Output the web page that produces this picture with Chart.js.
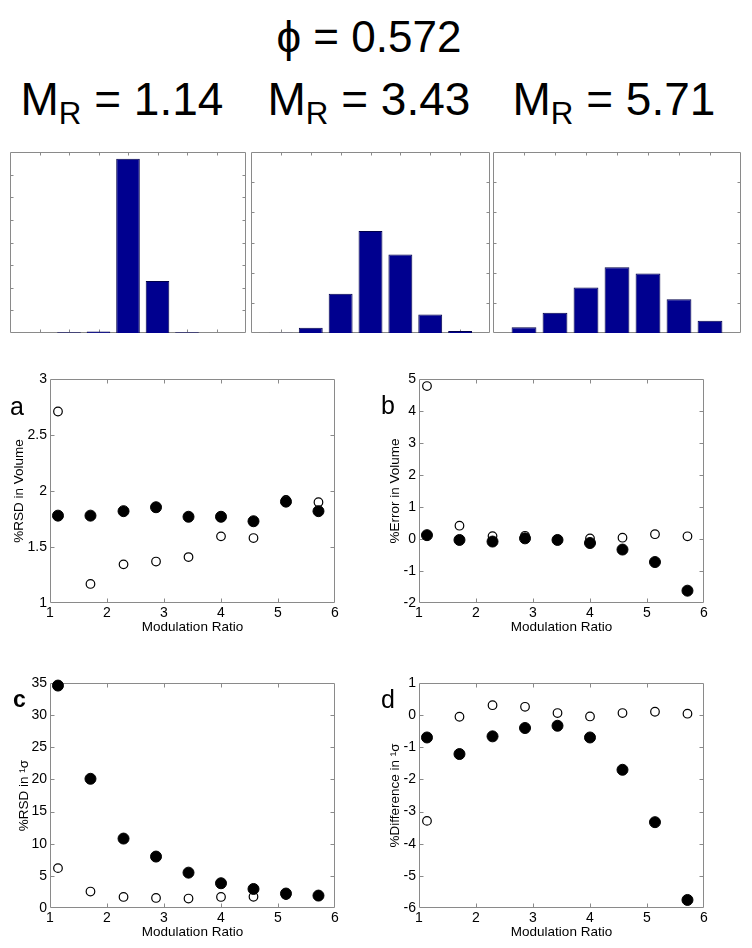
<!DOCTYPE html>
<html>
<head>
<meta charset="utf-8">
<script src="https://cdn.jsdelivr.net/npm/chart.js@4.4.1/dist/chart.umd.min.js"></script>
<style>
  body { margin: 0; background: #fff; }
  #page { position: relative; width: 752px; height: 948px; overflow: hidden;
          font-family: "Liberation Sans", Arial, sans-serif; color: #000; }
  #page canvas, #page .txt { position: absolute; }
  .txt { line-height: 1; white-space: nowrap; }
  .big { font-size: 46px; }
  .big span { font-size: 0.68em; vertical-align: -0.3em; }
  .lbl { font-size: 25px; }
</style>
</head>
<body>
<div id="page">
  <div class="txt" id="phi" style="font-size:44px; top:15px;">ϕ = 0.572</div>
  <div class="txt big" id="mr1" style="top:76px;">M<span>R</span> = 1.14</div>
  <div class="txt big" id="mr2" style="top:76px;">M<span>R</span> = 3.43</div>
  <div class="txt big" id="mr3" style="top:76px;">M<span>R</span> = 5.71</div>

  <canvas id="h1" width="236" height="181" style="left:10px; top:152px;"></canvas>
  <canvas id="h2" width="239" height="181" style="left:251px; top:152px;"></canvas>
  <canvas id="h3" width="248" height="181" style="left:493px; top:152px;"></canvas>

  <canvas id="pa" width="376" height="277" style="left:0px; top:360px;"></canvas>
  <canvas id="pb" width="376" height="277" style="left:376px; top:360px;"></canvas>
  <canvas id="pc" width="376" height="292" style="left:0px; top:650px;"></canvas>
  <canvas id="pd" width="376" height="292" style="left:376px; top:650px;"></canvas>

  <div class="txt lbl" style="left:10px; top:394px;">a</div>
  <div class="txt lbl" style="left:381px; top:393px;">b</div>
  <div class="txt lbl" style="left:13px; top:688px; font-size:23px; font-weight:bold;">c</div>
  <div class="txt lbl" style="left:381px; top:687px;">d</div>
</div>
<script>
// histogram bins (centres) and heights
const histBins = [1, 2, 3, 4, 5, 6, 7];
const hist114 = [0.005, 0.03, 0.07, 7.70, 2.30, 0.03, 0.005];
const hist343 = [0.01, 0.17, 1.30, 3.38, 2.60, 0.61, 0.07];
const hist571 = [0.19, 0.67, 1.51, 2.18, 1.97, 1.12, 0.41];

// modulation ratios for the scatter panels
const modRatio = [1.14, 1.71, 2.29, 2.86, 3.43, 4.00, 4.57, 5.14, 5.71];

// a: %RSD in volume
const rsdVolFilled = [1.78, 1.78, 1.82, 1.855, 1.77, 1.77, 1.73, 1.905, 1.82];
const rsdVolOpen = [2.71, 1.17, 1.345, 1.37, 1.41, 1.595, 1.58, 1.92, 1.90];
// b: %error in volume
const errVolFilled = [0.12, -0.03, -0.08, 0.02, -0.03, -0.125, -0.33, -0.72, -1.615];
const errVolOpen = [4.78, 0.415, 0.09, 0.10, -0.02, 0.02, 0.04, 0.15, 0.085];
// c: %RSD in 1sigma
const rsdSigFilled = [34.6, 20.1, 10.8, 8.0, 5.5, 3.85, 2.96, 2.25, 1.93];
const rsdSigOpen = [6.2, 2.56, 1.72, 1.56, 1.47, 1.72, 1.75, 2.0, 1.85];
// d: %difference in 1sigma
const diffSigFilled = [-0.695, -1.21, -0.66, -0.40, -0.33, -0.695, -1.70, -3.33, -5.75];
const diffSigOpen = [-3.29, -0.05, 0.31, 0.26, 0.065, -0.04, 0.065, 0.105, 0.045];

const axisGray = '#8a8a8a';
const fontFamily = '"Liberation Sans", Arial, sans-serif';

// MATLAB style box with ticks pointing inwards
const boxTicks = {
  id: 'boxTicks',
  beforeDatasetsDraw(chart, args, opts) {
    const {ctx, chartArea: a, scales: {x, y}} = chart;
    const len = opts.len || 4;
    const l = Math.round(a.left) + 0.5, r = Math.round(a.right) - 0.5;
    const t = Math.round(a.top) + 0.5, b = Math.round(a.bottom) - 0.5;
    ctx.save();
    ctx.strokeStyle = axisGray;
    ctx.lineWidth = 1;
    ctx.beginPath();
    x.ticks.forEach(tk => {
      const px = Math.round(x.getPixelForValue(tk.value)) + 0.5;
      if (px <= l + 1 || px >= r - 1) return;
      ctx.moveTo(px, t); ctx.lineTo(px, t + len);
      ctx.moveTo(px, b); ctx.lineTo(px, b - len);
    });
    y.ticks.forEach(tk => {
      const py = Math.round(y.getPixelForValue(tk.value)) + 0.5;
      if (py <= t + 1 || py >= b - 1) return;
      ctx.moveTo(l, py); ctx.lineTo(l + len, py);
      ctx.moveTo(r, py); ctx.lineTo(r - len, py);
    });
    ctx.rect(l, t, r - l, b - t);
    ctx.stroke();
    ctx.restore();
  }
};

function histogram(id, values, yMax) {
  new Chart(document.getElementById(id), {
    type: 'bar',
    data: {
      datasets: [{
        data: histBins.map((x, i) => ({x: x, y: values[i]})),
        backgroundColor: '#00008f',
        borderColor: '#00004a',
        borderWidth: 1,
        barPercentage: 0.8,
        categoryPercentage: 1.0
      }]
    },
    options: {
      responsive: false,
      animation: false,
      events: [],
      layout: {padding: 0},
      plugins: {legend: {display: false}, tooltip: {enabled: false}, boxTicks: {len: 3}},
      scales: {
        x: {type: 'linear', min: 0, max: 8, offset: false, display: false, ticks: {stepSize: 1}},
        y: {min: 0, max: yMax, display: false, ticks: {stepSize: 1}}
      }
    },
    plugins: [boxTicks]
  });
}

histogram('h1', hist114, 8);
histogram('h2', hist343, 6);
histogram('h3', hist571, 6);

function scatterPanel(id, filled, open, geo) {
  new Chart(document.getElementById(id), {
    type: 'scatter',
    data: {
      datasets: [{
        data: modRatio.map((x, i) => ({x: x, y: filled[i]})),
        pointRadius: 5.5,
        backgroundColor: '#000',
        borderColor: '#000',
        borderWidth: 1,
        clip: false
      }, {
        data: modRatio.map((x, i) => ({x: x, y: open[i]})),
        pointRadius: 4.3,
        backgroundColor: '#fff',
        borderColor: '#000',
        borderWidth: 1.2,
        clip: false
      }]
    },
    options: {
      responsive: false,
      animation: false,
      events: [],
      layout: {padding: {top: geo.top, right: geo.right, left: 0, bottom: 0}},
      plugins: {legend: {display: false}, tooltip: {enabled: false}, boxTicks: {len: 4}},
      scales: {
        x: {
          type: 'linear', min: 1, max: 6,
          grid: {display: false, drawTicks: false}, border: {display: false},
          ticks: {stepSize: 1, padding: 2, color: '#000', font: {family: fontFamily, size: 14},
                  maxRotation: 0, callback: v => String(v)},
          title: {display: true, text: 'Modulation Ratio', color: '#000',
                  font: {family: fontFamily, size: 13.5}, padding: {top: 0, bottom: 2}},
          afterFit: s => { s.height = 34; }
        },
        y: {
          min: geo.yMin, max: geo.yMax,
          grid: {display: false, drawTicks: false}, border: {display: false},
          ticks: {stepSize: geo.yStep, padding: 3, color: '#000', font: {family: fontFamily, size: 14},
                  callback: v => String(v)},
          title: {display: true, text: geo.yTitle, color: '#000',
                  font: {family: fontFamily, size: 13.5}, padding: {top: geo.titleX - 8, bottom: 0}},
          afterFit: s => { s.width = geo.left; }
        }
      }
    },
    plugins: [boxTicks]
  });
}

scatterPanel('pa', rsdVolFilled, rsdVolOpen,
  {left: 50, right: 41, top: 19, yMin: 1, yMax: 3, yStep: 0.5, yTitle: '%RSD in Volume', titleX: 19});
scatterPanel('pb', errVolFilled, errVolOpen,
  {left: 43, right: 48, top: 19, yMin: -2, yMax: 5, yStep: 1, yTitle: '%Error in Volume', titleX: 19});
scatterPanel('pc', rsdSigFilled, rsdSigOpen,
  {left: 50, right: 41, top: 33, yMin: 0, yMax: 35, yStep: 5, yTitle: '%RSD in ¹σ', titleX: 24});
scatterPanel('pd', diffSigFilled, diffSigOpen,
  {left: 43, right: 48, top: 33, yMin: -6, yMax: 1, yStep: 1, yTitle: '%Difference in ¹σ', titleX: 19});

// centre the heading texts over their columns
function centreAt(id, cx) {
  const el = document.getElementById(id);
  el.style.left = (cx - el.offsetWidth / 2) + 'px';
}
centreAt('phi', 369);
centreAt('mr1', 122);
centreAt('mr2', 369);
centreAt('mr3', 614);
</script>
</body>
</html>
